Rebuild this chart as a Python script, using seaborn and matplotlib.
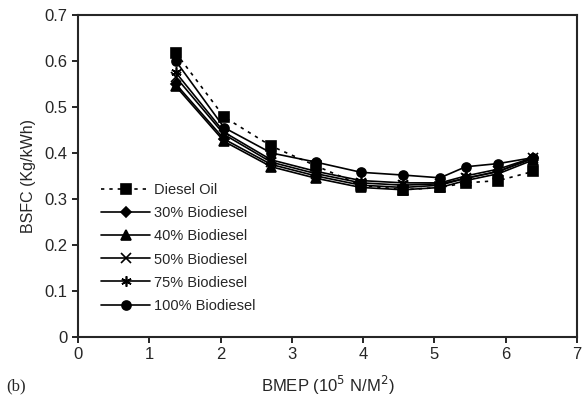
import pandas as pd
import matplotlib.pyplot as plt
import seaborn as sns

# ============ DATA =============
bmep = [1.37, 2.05, 2.71, 3.34, 3.97, 4.56, 5.08, 5.44, 5.90, 6.39]

diesel_oil = [0.618, 0.478, 0.415, 0.372, 0.330, 0.320, 0.325, 0.335, 0.340, 0.360]
bio_30 = [0.550, 0.430, 0.375, 0.350, 0.330, 0.325, 0.330, 0.345, 0.360, 0.388]
bio_40 = [0.545, 0.425, 0.370, 0.345, 0.325, 0.320, 0.325, 0.340, 0.355, 0.385]
bio_50 = [0.565, 0.440, 0.380, 0.355, 0.335, 0.330, 0.333, 0.345, 0.360, 0.390]
bio_75 = [0.575, 0.445, 0.385, 0.360, 0.340, 0.335, 0.335, 0.350, 0.365, 0.390]
bio_100 = [0.600, 0.455, 0.400, 0.380, 0.358, 0.352, 0.346, 0.370, 0.377, 0.390]

series_names = ["Diesel Oil", "30% Biodiesel", "40% Biodiesel",
                "50% Biodiesel", "75% Biodiesel", "100% Biodiesel"]
series_values = [diesel_oil, bio_30, bio_40, bio_50, bio_75, bio_100]
# ===============================

markers = ["s", "D", "^", "x", (6, 2, 0), "o"]
sizes = [6.5, 5.5, 6.5, 6.5, 7.5, 6.5]

sns.set_style("ticks")
plt.rcParams['font.family'] = ['Liberation Sans', 'DejaVu Sans']

fig = plt.figure(figsize=(5.88, 4.05), dpi=100)
ax = fig.add_axes([0.133, 0.168, 0.848, 0.795])

for name, vals, mk, ms in zip(series_names, series_values, markers, sizes):
    df = pd.DataFrame({"BMEP": bmep, "BSFC": vals})
    ls = (0, (2, 3)) if name == "Diesel Oil" else "-"
    sns.lineplot(data=df, x="BMEP", y="BSFC", ax=ax, color="black",
                 marker=mk, markersize=ms, markeredgecolor="black",
                 markeredgewidth=1.2, linestyle=ls, linewidth=1.2,
                 label=name)

ax.set_xlim(0, 7)
ax.set_ylim(0, 0.7)
ax.set_xticks(range(0, 8))
ax.set_yticks([0, 0.1, 0.2, 0.3, 0.4, 0.5, 0.6, 0.7])
ax.set_yticklabels(["0", "0.1", "0.2", "0.3", "0.4", "0.5", "0.6", "0.7"])
ax.tick_params(labelsize=12, length=4, width=1.2, color="black")
for sp in ax.spines.values():
    sp.set_linewidth(1.5)
    sp.set_visible(True)

ax.set_xlabel("BMEP (10$^5$ N/M$^2$)", fontsize=12, labelpad=8)
ax.set_ylabel("BSFC (Kg/kWh)", fontsize=11.5, labelpad=6)

leg = ax.legend(loc="upper left", bbox_to_anchor=(0.035, 0.495), frameon=False,
                fontsize=10.5, handlelength=3.3, labelspacing=0.62,
                handletextpad=0.3, borderaxespad=0)

fig.text(0.01, 0.035, "(b)", fontsize=12, family="Liberation Serif")

fig.savefig("out.png", dpi=100)
plt.close(fig)
